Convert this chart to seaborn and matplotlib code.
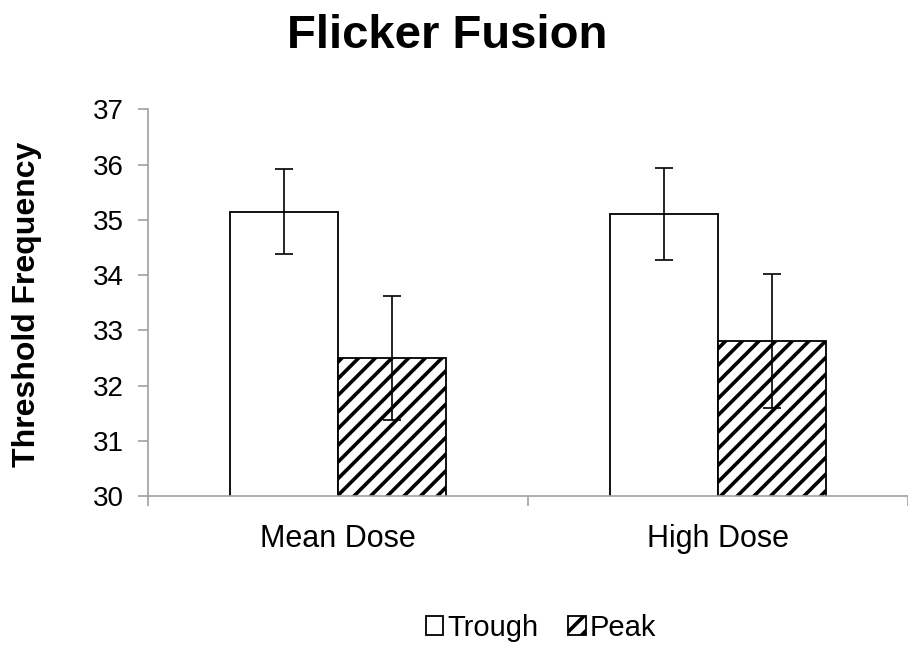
import seaborn as sns
import matplotlib.pyplot as plt
import pandas as pd

# data
doses = ["Mean Dose", "High Dose"]
times = ["Trough", "Peak"]
trough_vals = [35.15, 35.11]
peak_vals = [32.50, 32.81]
trough_err = [0.77, 0.83]
peak_err = [1.12, 1.21]
y_ticks = [30, 31, 32, 33, 34, 35, 36, 37]

df = pd.DataFrame({
    "Dose": doses * 2,
    "Time": [times[0]] * 2 + [times[1]] * 2,
    "Value": trough_vals + peak_vals,
})
errs = {times[0]: trough_err, times[1]: peak_err}

sns.set_style("white")
plt.rcParams["font.family"] = ["Liberation Sans", "DejaVu Sans"]
plt.rcParams["text.color"] = "black"
plt.rcParams["xtick.color"] = "black"
plt.rcParams["ytick.color"] = "black"
plt.rcParams["hatch.linewidth"] = 2.6
plt.rcParams["hatch.color"] = "black"

fig = plt.figure(figsize=(9.08, 6.5), dpi=100)
ax = fig.add_axes([148 / 908, 0.2365, 1 - 148 / 908, 0.8318 - 0.2365])

sns.barplot(data=df, x="Dose", y="Value", hue="Time", order=doses, hue_order=times,
            palette=["white", "white"], edgecolor="black", linewidth=1.3,
            width=0.57, errorbar=None, legend=False, ax=ax)

for cont, t in zip(ax.containers, times):
    for bar, e in zip(cont, errs[t]):
        if t == "Peak":
            bar.set_hatch("//")
        ax.errorbar(bar.get_x() + bar.get_width() / 2, bar.get_height(), yerr=e,
                    fmt="none", ecolor="black", elinewidth=1.2, capsize=6.5,
                    capthick=1.2, zorder=5)

ax.set_ylim(30, 37)
ax.set_yticks(y_ticks)
ax.set_xlim(-0.5, 1.484)
ax.set_xticks([-0.5, 0.5, 1.5], minor=True)
ax.tick_params(axis="x", which="major", bottom=True, length=0, pad=20,
               labelsize=22, labelcolor="black")
ax.tick_params(axis="x", which="minor", bottom=True, length=7.2, width=1.2,
               color="#a0a0a0", direction="out")
ax.tick_params(axis="y", left=True, length=7.2, width=1.2, color="#a0a0a0",
               direction="out", pad=10, labelsize=20, labelcolor="black")
ax.set_xlabel("")
ax.set_ylabel("")
for side in ["top", "right"]:
    ax.spines[side].set_visible(False)
for side in ["left", "bottom"]:
    ax.spines[side].set_color("#a0a0a0")
    ax.spines[side].set_linewidth(1.2)

fig.text(0.493, 0.926, "Flicker Fusion", ha="center", va="baseline",
         fontsize=34, fontweight="bold", color="black")
fig.text(0.03, 0.531, "Threshold Frequency", ha="center", va="center",
         rotation=90, fontsize=23, fontweight="bold", color="black")

fig.legend(handles=list(ax.containers), labels=times, loc="center",
           bbox_to_anchor=(0.596, 0.034), ncol=2, frameon=False, fontsize=21,
           handlelength=0.6, handleheight=0.6, handletextpad=0.15,
           columnspacing=1.0)

fig.savefig("out.png", dpi=100)
plt.close(fig)
